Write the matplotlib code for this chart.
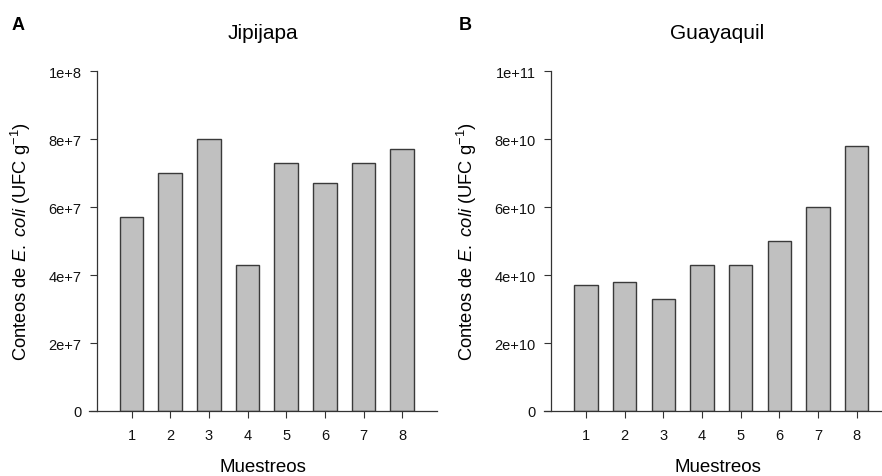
import matplotlib
matplotlib.use("Agg")
import matplotlib.pyplot as plt
from matplotlib.ticker import FixedLocator

plt.rcParams["font.family"] = ["Liberation Sans", "DejaVu Sans"]
plt.rcParams["mathtext.fontset"] = "custom"
plt.rcParams["mathtext.rm"] = "Liberation Sans"
plt.rcParams["mathtext.it"] = "Liberation Sans:italic"

muestreos = [1, 2, 3, 4, 5, 6, 7, 8]
jipijapa = [5.7e7, 7.0e7, 8.0e7, 4.3e7, 7.3e7, 6.7e7, 7.3e7, 7.7e7]
guayaquil = [3.7e10, 3.8e10, 3.3e10, 4.3e10, 4.3e10, 5.0e10, 6.0e10, 7.8e10]

ticks_a = [0, 2e7, 4e7, 6e7, 8e7, 1e8]
labels_a = ["0", "2e+7", "4e+7", "6e+7", "8e+7", "1e+8"]
ticks_b = [0, 2e10, 4e10, 6e10, 8e10, 1e11]
labels_b = ["0", "2e+10", "4e+10", "6e+10", "8e+10", "1e+11"]

ylabel = r"Conteos de $\mathit{E.\ coli}$ (UFC g$^{-1}$)"
W, H = 882, 477

fig = plt.figure(figsize=(W / 100, H / 100), dpi=100)
ax_a = fig.add_axes([89 / W, 65 / H, 348 / W, 340 / H])
ax_b = fig.add_axes([543.5 / W, 65 / H, 348 / W, 340 / H])

panels = [
    (ax_a, jipijapa, ticks_a, labels_a, "Jipijapa", "A", 12),
    (ax_b, guayaquil, ticks_b, labels_b, "Guayaquil", "B", 459),
]
for ax, vals, yt, yl, title, letter, lx in panels:
    ax.bar(muestreos, vals, width=0.61, color="#c0c0c0", edgecolor="#3a3a3a", linewidth=1.0)
    ax.set_xlim(-0.1, 8.9)
    ax.set_ylim(yt[0], yt[-1])
    for s in ("top", "right"):
        ax.spines[s].set_visible(False)
    ax.spines["left"].set_position(("data", 0.1))
    for s in ("left", "bottom"):
        ax.spines[s].set_color("#333333")
        ax.spines[s].set_linewidth(0.9)
    ax.xaxis.set_major_locator(FixedLocator(muestreos))
    ax.set_yticks(yt)
    ax.set_yticklabels(yl)
    ax.tick_params(direction="out", length=5, width=0.8, color="#333333",
                   labelsize=10.5, labelcolor="#111111")
    ax.tick_params(axis="x", pad=7)
    ax.tick_params(axis="y", pad=6)
    ax.set_title(title, fontsize=15, pad=24)
    ax.set_xlabel("Muestreos", fontsize=13.5, labelpad=12)
    ax.set_ylabel(ylabel, fontsize=13.2, labelpad=11)
    fig.text(lx / W, 1 - 30 / H, letter, fontsize=13, fontweight="bold")

fig.savefig("out.png", dpi=100)
